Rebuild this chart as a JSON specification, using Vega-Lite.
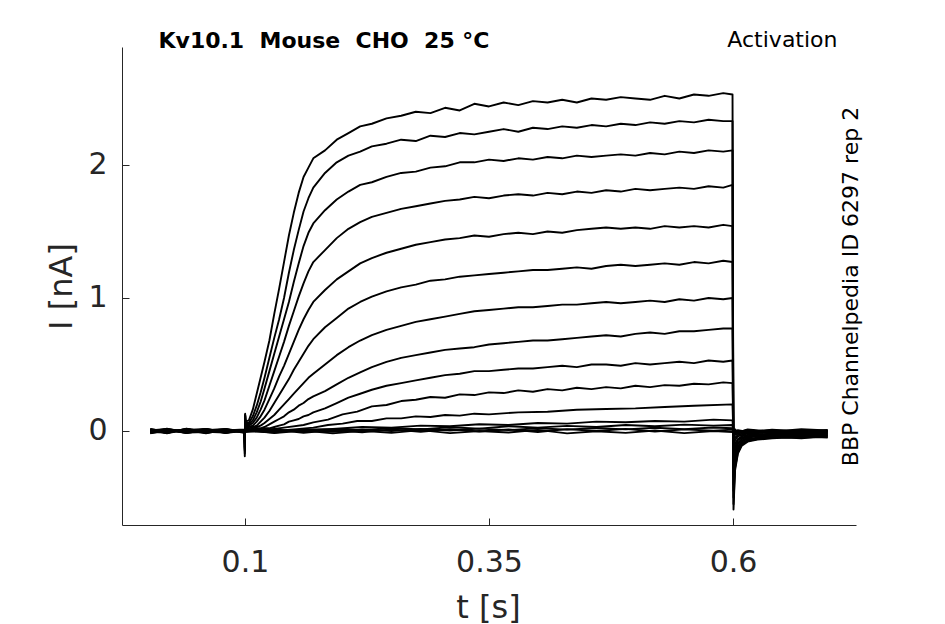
{
"$schema":"https://vega.github.io/schema/vega-lite/v6.json",
"width":734,"height":478,
"autosize":{"type":"none"},
"padding":{"left":122,"top":47,"right":89,"bottom":99},
"background":"white",
"config":{"font":"DejaVu Sans","view":{"stroke":null}},
"datasets":{
"anchor":[{"t":0.35,"i":1}],
"traces":[
{"k":1,"t":0.003,"i":0.012},{"k":1,"t":0.02,"i":-0.015},{"k":1,"t":0.04,"i":0.018},{"k":1,"t":0.06,"i":-0.008},{"k":1,"t":0.08,"i":0.01},{"k":1,"t":0.0995,"i":0},{"k":1,"t":0.0998,"i":-0.19},{"k":1,"t":0.1002,"i":0.13},
{"k":1,"t":0.1005,"i":0.07},{"k":1,"t":0.104,"i":0.08},{"k":1,"t":0.108,"i":0.16},{"k":1,"t":0.112,"i":0.28},{"k":1,"t":0.116,"i":0.4},{"k":1,"t":0.12,"i":0.52},{"k":1,"t":0.125,"i":0.68},{"k":1,"t":0.13,"i":0.88},{"k":1,"t":0.135,"i":1.07},{"k":1,"t":0.14,"i":1.27},{"k":1,"t":0.145,"i":1.47},{"k":1,"t":0.15,"i":1.64},{"k":1,"t":0.155,"i":1.79},{"k":1,"t":0.16,"i":1.91},{"k":1,"t":0.165,"i":1.98},{"k":1,"t":0.17,"i":2.05},
{"k":1,"t":0.182,"i":2.11},{"k":1,"t":0.194,"i":2.19},{"k":1,"t":0.206,"i":2.24},{"k":1,"t":0.218,"i":2.29},{"k":1,"t":0.23,"i":2.31},{"k":1,"t":0.245,"i":2.35},{"k":1,"t":0.26,"i":2.37},{"k":1,"t":0.275,"i":2.4},{"k":1,"t":0.29,"i":2.39},{"k":1,"t":0.305,"i":2.43},{"k":1,"t":0.32,"i":2.41},{"k":1,"t":0.335,"i":2.46},{"k":1,"t":0.35,"i":2.44},{"k":1,"t":0.365,"i":2.47},{"k":1,"t":0.38,"i":2.45},{"k":1,"t":0.395,"i":2.48},{"k":1,"t":0.41,"i":2.47},{"k":1,"t":0.425,"i":2.49},{"k":1,"t":0.44,"i":2.47},{"k":1,"t":0.455,"i":2.5},{"k":1,"t":0.47,"i":2.49},{"k":1,"t":0.485,"i":2.51},{"k":1,"t":0.5,"i":2.5},{"k":1,"t":0.515,"i":2.49},{"k":1,"t":0.53,"i":2.52},{"k":1,"t":0.545,"i":2.5},{"k":1,"t":0.56,"i":2.53},{"k":1,"t":0.575,"i":2.52},{"k":1,"t":0.59,"i":2.54},{"k":1,"t":0.5995,"i":2.53},
{"k":1,"t":0.6005,"i":-0.59},{"k":1,"t":0.602,"i":-0.3},{"k":1,"t":0.605,"i":-0.17},{"k":1,"t":0.609,"i":-0.11},{"k":1,"t":0.615,"i":-0.08},{"k":1,"t":0.625,"i":-0.065},{"k":1,"t":0.64,"i":-0.055},{"k":1,"t":0.655,"i":-0.05},{"k":1,"t":0.67,"i":-0.055},{"k":1,"t":0.685,"i":-0.045},{"k":1,"t":0.697,"i":-0.05},

{"k":2,"t":0.003,"i":-0.014},{"k":2,"t":0.02,"i":0.01},{"k":2,"t":0.04,"i":-0.006},{"k":2,"t":0.06,"i":0.016},{"k":2,"t":0.08,"i":-0.012},{"k":2,"t":0.0995,"i":0.005},{"k":2,"t":0.0998,"i":-0.17},{"k":2,"t":0.1002,"i":0.12},
{"k":2,"t":0.1005,"i":0.06},{"k":2,"t":0.104,"i":0.06},{"k":2,"t":0.108,"i":0.11},{"k":2,"t":0.112,"i":0.19},{"k":2,"t":0.116,"i":0.29},{"k":2,"t":0.12,"i":0.4},{"k":2,"t":0.125,"i":0.55},{"k":2,"t":0.13,"i":0.7},{"k":2,"t":0.135,"i":0.84},{"k":2,"t":0.14,"i":1.0},{"k":2,"t":0.145,"i":1.19},{"k":2,"t":0.15,"i":1.36},{"k":2,"t":0.155,"i":1.51},{"k":2,"t":0.16,"i":1.65},{"k":2,"t":0.165,"i":1.75},{"k":2,"t":0.17,"i":1.83},
{"k":2,"t":0.182,"i":1.94},{"k":2,"t":0.194,"i":2.02},{"k":2,"t":0.206,"i":2.07},{"k":2,"t":0.218,"i":2.1},{"k":2,"t":0.23,"i":2.14},{"k":2,"t":0.245,"i":2.16},{"k":2,"t":0.26,"i":2.19},{"k":2,"t":0.275,"i":2.18},{"k":2,"t":0.29,"i":2.22},{"k":2,"t":0.305,"i":2.21},{"k":2,"t":0.32,"i":2.24},{"k":2,"t":0.335,"i":2.23},{"k":2,"t":0.35,"i":2.25},{"k":2,"t":0.365,"i":2.27},{"k":2,"t":0.38,"i":2.25},{"k":2,"t":0.395,"i":2.28},{"k":2,"t":0.41,"i":2.27},{"k":2,"t":0.425,"i":2.29},{"k":2,"t":0.44,"i":2.28},{"k":2,"t":0.455,"i":2.3},{"k":2,"t":0.47,"i":2.29},{"k":2,"t":0.485,"i":2.31},{"k":2,"t":0.5,"i":2.3},{"k":2,"t":0.515,"i":2.32},{"k":2,"t":0.53,"i":2.31},{"k":2,"t":0.545,"i":2.33},{"k":2,"t":0.56,"i":2.32},{"k":2,"t":0.575,"i":2.34},{"k":2,"t":0.59,"i":2.33},{"k":2,"t":0.5995,"i":2.33},
{"k":2,"t":0.6005,"i":-0.55},{"k":2,"t":0.602,"i":-0.28},{"k":2,"t":0.605,"i":-0.16},{"k":2,"t":0.609,"i":-0.1},{"k":2,"t":0.615,"i":-0.075},{"k":2,"t":0.625,"i":-0.06},{"k":2,"t":0.64,"i":-0.05},{"k":2,"t":0.655,"i":-0.048},{"k":2,"t":0.67,"i":-0.05},{"k":2,"t":0.685,"i":-0.045},{"k":2,"t":0.697,"i":-0.045},

{"k":3,"t":0.003,"i":0.016},{"k":3,"t":0.02,"i":-0.008},{"k":3,"t":0.04,"i":0.006},{"k":3,"t":0.06,"i":-0.017},{"k":3,"t":0.08,"i":0.012},{"k":3,"t":0.0995,"i":-0.004},{"k":3,"t":0.0998,"i":-0.15},{"k":3,"t":0.1002,"i":0.12},
{"k":3,"t":0.1005,"i":0.05},{"k":3,"t":0.104,"i":0.05},{"k":3,"t":0.108,"i":0.08},{"k":3,"t":0.112,"i":0.14},{"k":3,"t":0.116,"i":0.22},{"k":3,"t":0.12,"i":0.32},{"k":3,"t":0.125,"i":0.45},{"k":3,"t":0.13,"i":0.58},{"k":3,"t":0.135,"i":0.71},{"k":3,"t":0.14,"i":0.84},{"k":3,"t":0.145,"i":0.97},{"k":3,"t":0.15,"i":1.12},{"k":3,"t":0.155,"i":1.26},{"k":3,"t":0.16,"i":1.39},{"k":3,"t":0.165,"i":1.49},{"k":3,"t":0.17,"i":1.56},
{"k":3,"t":0.182,"i":1.66},{"k":3,"t":0.194,"i":1.74},{"k":3,"t":0.206,"i":1.8},{"k":3,"t":0.218,"i":1.85},{"k":3,"t":0.23,"i":1.87},{"k":3,"t":0.245,"i":1.91},{"k":3,"t":0.26,"i":1.94},{"k":3,"t":0.275,"i":1.95},{"k":3,"t":0.29,"i":1.98},{"k":3,"t":0.305,"i":1.99},{"k":3,"t":0.32,"i":2.02},{"k":3,"t":0.335,"i":2.02},{"k":3,"t":0.35,"i":2.04},{"k":3,"t":0.365,"i":2.03},{"k":3,"t":0.38,"i":2.05},{"k":3,"t":0.395,"i":2.04},{"k":3,"t":0.41,"i":2.06},{"k":3,"t":0.425,"i":2.05},{"k":3,"t":0.44,"i":2.07},{"k":3,"t":0.455,"i":2.06},{"k":3,"t":0.47,"i":2.07},{"k":3,"t":0.485,"i":2.08},{"k":3,"t":0.5,"i":2.07},{"k":3,"t":0.515,"i":2.09},{"k":3,"t":0.53,"i":2.08},{"k":3,"t":0.545,"i":2.1},{"k":3,"t":0.56,"i":2.09},{"k":3,"t":0.575,"i":2.11},{"k":3,"t":0.59,"i":2.1},{"k":3,"t":0.5995,"i":2.11},
{"k":3,"t":0.6005,"i":-0.5},{"k":3,"t":0.602,"i":-0.25},{"k":3,"t":0.605,"i":-0.14},{"k":3,"t":0.609,"i":-0.09},{"k":3,"t":0.615,"i":-0.07},{"k":3,"t":0.625,"i":-0.055},{"k":3,"t":0.64,"i":-0.045},{"k":3,"t":0.655,"i":-0.045},{"k":3,"t":0.67,"i":-0.04},{"k":3,"t":0.685,"i":-0.045},{"k":3,"t":0.697,"i":-0.04},

{"k":4,"t":0.003,"i":-0.006},{"k":4,"t":0.02,"i":0.017},{"k":4,"t":0.04,"i":-0.015},{"k":4,"t":0.06,"i":0.008},{"k":4,"t":0.08,"i":-0.01},{"k":4,"t":0.0995,"i":0.008},{"k":4,"t":0.0998,"i":-0.14},{"k":4,"t":0.1002,"i":0.11},
{"k":4,"t":0.1005,"i":0.04},{"k":4,"t":0.104,"i":0.04},{"k":4,"t":0.108,"i":0.06},{"k":4,"t":0.112,"i":0.1},{"k":4,"t":0.116,"i":0.16},{"k":4,"t":0.12,"i":0.23},{"k":4,"t":0.125,"i":0.34},{"k":4,"t":0.13,"i":0.45},{"k":4,"t":0.135,"i":0.56},{"k":4,"t":0.14,"i":0.67},{"k":4,"t":0.145,"i":0.79},{"k":4,"t":0.15,"i":0.9},{"k":4,"t":0.155,"i":1.01},{"k":4,"t":0.16,"i":1.11},{"k":4,"t":0.165,"i":1.2},{"k":4,"t":0.17,"i":1.27},
{"k":4,"t":0.182,"i":1.36},{"k":4,"t":0.194,"i":1.45},{"k":4,"t":0.206,"i":1.52},{"k":4,"t":0.218,"i":1.57},{"k":4,"t":0.23,"i":1.61},{"k":4,"t":0.245,"i":1.64},{"k":4,"t":0.26,"i":1.67},{"k":4,"t":0.275,"i":1.69},{"k":4,"t":0.29,"i":1.71},{"k":4,"t":0.305,"i":1.73},{"k":4,"t":0.32,"i":1.74},{"k":4,"t":0.335,"i":1.76},{"k":4,"t":0.35,"i":1.75},{"k":4,"t":0.365,"i":1.77},{"k":4,"t":0.38,"i":1.78},{"k":4,"t":0.395,"i":1.77},{"k":4,"t":0.41,"i":1.79},{"k":4,"t":0.425,"i":1.78},{"k":4,"t":0.44,"i":1.8},{"k":4,"t":0.455,"i":1.79},{"k":4,"t":0.47,"i":1.81},{"k":4,"t":0.485,"i":1.8},{"k":4,"t":0.5,"i":1.82},{"k":4,"t":0.515,"i":1.81},{"k":4,"t":0.53,"i":1.82},{"k":4,"t":0.545,"i":1.83},{"k":4,"t":0.56,"i":1.82},{"k":4,"t":0.575,"i":1.84},{"k":4,"t":0.59,"i":1.83},{"k":4,"t":0.5995,"i":1.85},
{"k":4,"t":0.6005,"i":-0.45},{"k":4,"t":0.602,"i":-0.22},{"k":4,"t":0.605,"i":-0.12},{"k":4,"t":0.609,"i":-0.08},{"k":4,"t":0.615,"i":-0.06},{"k":4,"t":0.625,"i":-0.05},{"k":4,"t":0.64,"i":-0.04},{"k":4,"t":0.655,"i":-0.04},{"k":4,"t":0.67,"i":-0.035},{"k":4,"t":0.685,"i":-0.04},{"k":4,"t":0.697,"i":-0.035},

{"k":5,"t":0.003,"i":0.008},{"k":5,"t":0.02,"i":-0.018},{"k":5,"t":0.04,"i":0.012},{"k":5,"t":0.06,"i":-0.004},{"k":5,"t":0.08,"i":0.015},{"k":5,"t":0.0995,"i":-0.006},{"k":5,"t":0.0998,"i":-0.13},{"k":5,"t":0.1002,"i":0.11},
{"k":5,"t":0.1005,"i":0.03},{"k":5,"t":0.104,"i":0.03},{"k":5,"t":0.108,"i":0.04},{"k":5,"t":0.112,"i":0.07},{"k":5,"t":0.116,"i":0.11},{"k":5,"t":0.12,"i":0.16},{"k":5,"t":0.125,"i":0.24},{"k":5,"t":0.13,"i":0.32},{"k":5,"t":0.135,"i":0.41},{"k":5,"t":0.14,"i":0.49},{"k":5,"t":0.145,"i":0.58},{"k":5,"t":0.15,"i":0.67},{"k":5,"t":0.155,"i":0.76},{"k":5,"t":0.16,"i":0.84},{"k":5,"t":0.165,"i":0.91},{"k":5,"t":0.17,"i":0.97},
{"k":5,"t":0.182,"i":1.06},{"k":5,"t":0.194,"i":1.14},{"k":5,"t":0.206,"i":1.2},{"k":5,"t":0.218,"i":1.26},{"k":5,"t":0.23,"i":1.3},{"k":5,"t":0.245,"i":1.34},{"k":5,"t":0.26,"i":1.37},{"k":5,"t":0.275,"i":1.4},{"k":5,"t":0.29,"i":1.42},{"k":5,"t":0.305,"i":1.44},{"k":5,"t":0.32,"i":1.45},{"k":5,"t":0.335,"i":1.47},{"k":5,"t":0.35,"i":1.46},{"k":5,"t":0.365,"i":1.48},{"k":5,"t":0.38,"i":1.49},{"k":5,"t":0.395,"i":1.48},{"k":5,"t":0.41,"i":1.5},{"k":5,"t":0.425,"i":1.49},{"k":5,"t":0.44,"i":1.51},{"k":5,"t":0.455,"i":1.52},{"k":5,"t":0.47,"i":1.53},{"k":5,"t":0.485,"i":1.52},{"k":5,"t":0.5,"i":1.53},{"k":5,"t":0.515,"i":1.52},{"k":5,"t":0.53,"i":1.54},{"k":5,"t":0.545,"i":1.53},{"k":5,"t":0.56,"i":1.54},{"k":5,"t":0.575,"i":1.53},{"k":5,"t":0.59,"i":1.55},{"k":5,"t":0.5995,"i":1.54},
{"k":5,"t":0.6005,"i":-0.4},{"k":5,"t":0.602,"i":-0.19},{"k":5,"t":0.605,"i":-0.1},{"k":5,"t":0.609,"i":-0.07},{"k":5,"t":0.615,"i":-0.05},{"k":5,"t":0.625,"i":-0.04},{"k":5,"t":0.64,"i":-0.035},{"k":5,"t":0.655,"i":-0.03},{"k":5,"t":0.67,"i":-0.035},{"k":5,"t":0.685,"i":-0.03},{"k":5,"t":0.697,"i":-0.03},

{"k":6,"t":0.003,"i":-0.017},{"k":6,"t":0.02,"i":0.006},{"k":6,"t":0.04,"i":-0.01},{"k":6,"t":0.06,"i":0.014},{"k":6,"t":0.08,"i":-0.005},{"k":6,"t":0.0995,"i":0.01},{"k":6,"t":0.0998,"i":-0.12},{"k":6,"t":0.1002,"i":0.1},
{"k":6,"t":0.1005,"i":0.02},{"k":6,"t":0.104,"i":0.02},{"k":6,"t":0.108,"i":0.03},{"k":6,"t":0.112,"i":0.04},{"k":6,"t":0.116,"i":0.07},{"k":6,"t":0.12,"i":0.1},{"k":6,"t":0.125,"i":0.15},{"k":6,"t":0.13,"i":0.21},{"k":6,"t":0.135,"i":0.27},{"k":6,"t":0.14,"i":0.33},{"k":6,"t":0.145,"i":0.39},{"k":6,"t":0.15,"i":0.46},{"k":6,"t":0.155,"i":0.52},{"k":6,"t":0.16,"i":0.58},{"k":6,"t":0.165,"i":0.64},{"k":6,"t":0.17,"i":0.69},
{"k":6,"t":0.182,"i":0.78},{"k":6,"t":0.194,"i":0.85},{"k":6,"t":0.206,"i":0.92},{"k":6,"t":0.218,"i":0.97},{"k":6,"t":0.23,"i":1.01},{"k":6,"t":0.245,"i":1.05},{"k":6,"t":0.26,"i":1.08},{"k":6,"t":0.275,"i":1.1},{"k":6,"t":0.29,"i":1.13},{"k":6,"t":0.305,"i":1.14},{"k":6,"t":0.32,"i":1.16},{"k":6,"t":0.335,"i":1.17},{"k":6,"t":0.35,"i":1.18},{"k":6,"t":0.365,"i":1.19},{"k":6,"t":0.38,"i":1.2},{"k":6,"t":0.395,"i":1.21},{"k":6,"t":0.41,"i":1.21},{"k":6,"t":0.425,"i":1.22},{"k":6,"t":0.44,"i":1.23},{"k":6,"t":0.455,"i":1.22},{"k":6,"t":0.47,"i":1.24},{"k":6,"t":0.485,"i":1.25},{"k":6,"t":0.5,"i":1.24},{"k":6,"t":0.515,"i":1.25},{"k":6,"t":0.53,"i":1.26},{"k":6,"t":0.545,"i":1.25},{"k":6,"t":0.56,"i":1.27},{"k":6,"t":0.575,"i":1.26},{"k":6,"t":0.59,"i":1.28},{"k":6,"t":0.5995,"i":1.27},
{"k":6,"t":0.6005,"i":-0.34},{"k":6,"t":0.602,"i":-0.16},{"k":6,"t":0.605,"i":-0.09},{"k":6,"t":0.609,"i":-0.06},{"k":6,"t":0.615,"i":-0.045},{"k":6,"t":0.625,"i":-0.035},{"k":6,"t":0.64,"i":-0.03},{"k":6,"t":0.655,"i":-0.028},{"k":6,"t":0.67,"i":-0.03},{"k":6,"t":0.685,"i":-0.025},{"k":6,"t":0.697,"i":-0.028},

{"k":7,"t":0.003,"i":0.005},{"k":7,"t":0.02,"i":-0.012},{"k":7,"t":0.04,"i":0.015},{"k":7,"t":0.06,"i":-0.015},{"k":7,"t":0.08,"i":0.008},{"k":7,"t":0.0995,"i":-0.01},{"k":7,"t":0.0998,"i":-0.1},{"k":7,"t":0.1002,"i":0.09},
{"k":7,"t":0.1005,"i":0.02},{"k":7,"t":0.104,"i":0.01},{"k":7,"t":0.108,"i":0.02},{"k":7,"t":0.112,"i":0.03},{"k":7,"t":0.116,"i":0.04},{"k":7,"t":0.12,"i":0.06},{"k":7,"t":0.125,"i":0.09},{"k":7,"t":0.13,"i":0.12},{"k":7,"t":0.135,"i":0.16},{"k":7,"t":0.14,"i":0.2},{"k":7,"t":0.145,"i":0.24},{"k":7,"t":0.15,"i":0.28},{"k":7,"t":0.155,"i":0.32},{"k":7,"t":0.16,"i":0.36},{"k":7,"t":0.165,"i":0.4},{"k":7,"t":0.17,"i":0.43},
{"k":7,"t":0.182,"i":0.5},{"k":7,"t":0.194,"i":0.57},{"k":7,"t":0.206,"i":0.63},{"k":7,"t":0.218,"i":0.68},{"k":7,"t":0.23,"i":0.72},{"k":7,"t":0.245,"i":0.76},{"k":7,"t":0.26,"i":0.79},{"k":7,"t":0.275,"i":0.82},{"k":7,"t":0.29,"i":0.84},{"k":7,"t":0.305,"i":0.86},{"k":7,"t":0.32,"i":0.88},{"k":7,"t":0.335,"i":0.9},{"k":7,"t":0.35,"i":0.91},{"k":7,"t":0.365,"i":0.92},{"k":7,"t":0.38,"i":0.93},{"k":7,"t":0.395,"i":0.93},{"k":7,"t":0.41,"i":0.94},{"k":7,"t":0.425,"i":0.95},{"k":7,"t":0.44,"i":0.95},{"k":7,"t":0.455,"i":0.96},{"k":7,"t":0.47,"i":0.97},{"k":7,"t":0.485,"i":0.96},{"k":7,"t":0.5,"i":0.97},{"k":7,"t":0.515,"i":0.98},{"k":7,"t":0.53,"i":0.97},{"k":7,"t":0.545,"i":0.99},{"k":7,"t":0.56,"i":0.98},{"k":7,"t":0.575,"i":1.0},{"k":7,"t":0.59,"i":0.99},{"k":7,"t":0.5995,"i":1.0},
{"k":7,"t":0.6005,"i":-0.28},{"k":7,"t":0.602,"i":-0.13},{"k":7,"t":0.605,"i":-0.07},{"k":7,"t":0.609,"i":-0.05},{"k":7,"t":0.615,"i":-0.04},{"k":7,"t":0.625,"i":-0.03},{"k":7,"t":0.64,"i":-0.025},{"k":7,"t":0.655,"i":-0.02},{"k":7,"t":0.67,"i":-0.025},{"k":7,"t":0.685,"i":-0.02},{"k":7,"t":0.697,"i":-0.02},

{"k":8,"t":0.003,"i":-0.01},{"k":8,"t":0.02,"i":0.014},{"k":8,"t":0.04,"i":-0.004},{"k":8,"t":0.06,"i":0.012},{"k":8,"t":0.08,"i":-0.016},{"k":8,"t":0.0995,"i":0.004},{"k":8,"t":0.0998,"i":-0.09},{"k":8,"t":0.1002,"i":0.08},
{"k":8,"t":0.1005,"i":0.01},{"k":8,"t":0.104,"i":0.01},{"k":8,"t":0.108,"i":0.01},{"k":8,"t":0.112,"i":0.02},{"k":8,"t":0.116,"i":0.02},{"k":8,"t":0.12,"i":0.03},{"k":8,"t":0.125,"i":0.05},{"k":8,"t":0.13,"i":0.07},{"k":8,"t":0.135,"i":0.09},{"k":8,"t":0.14,"i":0.11},{"k":8,"t":0.145,"i":0.14},{"k":8,"t":0.15,"i":0.16},{"k":8,"t":0.155,"i":0.19},{"k":8,"t":0.16,"i":0.21},{"k":8,"t":0.165,"i":0.24},{"k":8,"t":0.17,"i":0.26},
{"k":8,"t":0.182,"i":0.3},{"k":8,"t":0.194,"i":0.35},{"k":8,"t":0.206,"i":0.4},{"k":8,"t":0.218,"i":0.44},{"k":8,"t":0.23,"i":0.48},{"k":8,"t":0.245,"i":0.52},{"k":8,"t":0.26,"i":0.55},{"k":8,"t":0.275,"i":0.57},{"k":8,"t":0.29,"i":0.59},{"k":8,"t":0.305,"i":0.61},{"k":8,"t":0.32,"i":0.62},{"k":8,"t":0.335,"i":0.63},{"k":8,"t":0.35,"i":0.65},{"k":8,"t":0.365,"i":0.66},{"k":8,"t":0.38,"i":0.67},{"k":8,"t":0.395,"i":0.68},{"k":8,"t":0.41,"i":0.68},{"k":8,"t":0.425,"i":0.69},{"k":8,"t":0.44,"i":0.7},{"k":8,"t":0.455,"i":0.71},{"k":8,"t":0.47,"i":0.72},{"k":8,"t":0.485,"i":0.71},{"k":8,"t":0.5,"i":0.73},{"k":8,"t":0.515,"i":0.74},{"k":8,"t":0.53,"i":0.73},{"k":8,"t":0.545,"i":0.75},{"k":8,"t":0.56,"i":0.75},{"k":8,"t":0.575,"i":0.76},{"k":8,"t":0.59,"i":0.77},{"k":8,"t":0.5995,"i":0.77},
{"k":8,"t":0.6005,"i":-0.22},{"k":8,"t":0.602,"i":-0.1},{"k":8,"t":0.605,"i":-0.06},{"k":8,"t":0.609,"i":-0.04},{"k":8,"t":0.615,"i":-0.03},{"k":8,"t":0.625,"i":-0.025},{"k":8,"t":0.64,"i":-0.02},{"k":8,"t":0.655,"i":-0.018},{"k":8,"t":0.67,"i":-0.02},{"k":8,"t":0.685,"i":-0.015},{"k":8,"t":0.697,"i":-0.018},

{"k":9,"t":0.003,"i":0.014},{"k":9,"t":0.02,"i":-0.006},{"k":9,"t":0.04,"i":0.01},{"k":9,"t":0.06,"i":-0.012},{"k":9,"t":0.08,"i":0.006},{"k":9,"t":0.0995,"i":-0.008},{"k":9,"t":0.0998,"i":-0.08},{"k":9,"t":0.1002,"i":0.07},
{"k":9,"t":0.1005,"i":0.01},{"k":9,"t":0.104,"i":0.0},{"k":9,"t":0.108,"i":0.01},{"k":9,"t":0.112,"i":0.01},{"k":9,"t":0.116,"i":0.01},{"k":9,"t":0.12,"i":0.02},{"k":9,"t":0.125,"i":0.02},{"k":9,"t":0.13,"i":0.03},{"k":9,"t":0.135,"i":0.04},{"k":9,"t":0.14,"i":0.05},{"k":9,"t":0.145,"i":0.07},{"k":9,"t":0.15,"i":0.08},{"k":9,"t":0.155,"i":0.09},{"k":9,"t":0.16,"i":0.11},{"k":9,"t":0.165,"i":0.12},{"k":9,"t":0.17,"i":0.14},
{"k":9,"t":0.182,"i":0.17},{"k":9,"t":0.194,"i":0.21},{"k":9,"t":0.206,"i":0.25},{"k":9,"t":0.218,"i":0.28},{"k":9,"t":0.23,"i":0.31},{"k":9,"t":0.245,"i":0.34},{"k":9,"t":0.26,"i":0.36},{"k":9,"t":0.275,"i":0.38},{"k":9,"t":0.29,"i":0.4},{"k":9,"t":0.305,"i":0.42},{"k":9,"t":0.32,"i":0.43},{"k":9,"t":0.335,"i":0.45},{"k":9,"t":0.35,"i":0.45},{"k":9,"t":0.365,"i":0.46},{"k":9,"t":0.38,"i":0.47},{"k":9,"t":0.395,"i":0.47},{"k":9,"t":0.41,"i":0.48},{"k":9,"t":0.425,"i":0.49},{"k":9,"t":0.44,"i":0.48},{"k":9,"t":0.455,"i":0.5},{"k":9,"t":0.47,"i":0.5},{"k":9,"t":0.485,"i":0.49},{"k":9,"t":0.5,"i":0.51},{"k":9,"t":0.515,"i":0.5},{"k":9,"t":0.53,"i":0.51},{"k":9,"t":0.545,"i":0.52},{"k":9,"t":0.56,"i":0.51},{"k":9,"t":0.575,"i":0.53},{"k":9,"t":0.59,"i":0.52},{"k":9,"t":0.5995,"i":0.53},
{"k":9,"t":0.6005,"i":-0.16},{"k":9,"t":0.602,"i":-0.07},{"k":9,"t":0.605,"i":-0.04},{"k":9,"t":0.609,"i":-0.03},{"k":9,"t":0.615,"i":-0.02},{"k":9,"t":0.625,"i":-0.015},{"k":9,"t":0.64,"i":-0.012},{"k":9,"t":0.655,"i":-0.01},{"k":9,"t":0.67,"i":-0.012},{"k":9,"t":0.685,"i":-0.01},{"k":9,"t":0.697,"i":-0.01},

{"k":10,"t":0.003,"i":-0.012},{"k":10,"t":0.02,"i":0.008},{"k":10,"t":0.04,"i":-0.016},{"k":10,"t":0.06,"i":0.01},{"k":10,"t":0.08,"i":0.004},{"k":10,"t":0.0995,"i":0.012},{"k":10,"t":0.0998,"i":-0.07},{"k":10,"t":0.1002,"i":0.06},
{"k":10,"t":0.1005,"i":0.01},{"k":10,"t":0.12,"i":0.005},{"k":10,"t":0.14,"i":0.025},{"k":10,"t":0.16,"i":0.045},{"k":10,"t":0.17,"i":0.065},{"k":10,"t":0.185,"i":0.085},{"k":10,"t":0.2,"i":0.125},{"k":10,"t":0.215,"i":0.145},{"k":10,"t":0.23,"i":0.185},{"k":10,"t":0.245,"i":0.195},{"k":10,"t":0.26,"i":0.225},{"k":10,"t":0.275,"i":0.235},{"k":10,"t":0.29,"i":0.255},{"k":10,"t":0.305,"i":0.25},{"k":10,"t":0.32,"i":0.275},{"k":10,"t":0.335,"i":0.27},{"k":10,"t":0.35,"i":0.29},{"k":10,"t":0.365,"i":0.285},{"k":10,"t":0.38,"i":0.305},{"k":10,"t":0.395,"i":0.295},{"k":10,"t":0.41,"i":0.315},{"k":10,"t":0.425,"i":0.305},{"k":10,"t":0.44,"i":0.325},{"k":10,"t":0.455,"i":0.315},{"k":10,"t":0.47,"i":0.33},{"k":10,"t":0.485,"i":0.32},{"k":10,"t":0.5,"i":0.34},{"k":10,"t":0.515,"i":0.33},{"k":10,"t":0.53,"i":0.345},{"k":10,"t":0.545,"i":0.34},{"k":10,"t":0.56,"i":0.355},{"k":10,"t":0.575,"i":0.35},{"k":10,"t":0.59,"i":0.365},{"k":10,"t":0.5995,"i":0.36},
{"k":10,"t":0.6005,"i":-0.11},{"k":10,"t":0.602,"i":-0.05},{"k":10,"t":0.605,"i":-0.03},{"k":10,"t":0.609,"i":-0.02},{"k":10,"t":0.615,"i":-0.015},{"k":10,"t":0.625,"i":-0.01},{"k":10,"t":0.64,"i":-0.008},{"k":10,"t":0.655,"i":-0.005},{"k":10,"t":0.67,"i":-0.008},{"k":10,"t":0.685,"i":-0.005},{"k":10,"t":0.697,"i":-0.006},

{"k":11,"t":0.003,"i":0.006},{"k":11,"t":0.02,"i":-0.014},{"k":11,"t":0.04,"i":0.016},{"k":11,"t":0.06,"i":-0.006},{"k":11,"t":0.08,"i":-0.012},{"k":11,"t":0.0995,"i":0.002},{"k":11,"t":0.0998,"i":-0.06},{"k":11,"t":0.1002,"i":0.05},
{"k":11,"t":0.1005,"i":0.005},{"k":11,"t":0.13,"i":0.0},{"k":11,"t":0.15,"i":0.012},{"k":11,"t":0.17,"i":0.025},{"k":11,"t":0.185,"i":0.045},{"k":11,"t":0.2,"i":0.055},{"k":11,"t":0.215,"i":0.075},{"k":11,"t":0.23,"i":0.075},{"k":11,"t":0.245,"i":0.095},{"k":11,"t":0.26,"i":0.095},{"k":11,"t":0.275,"i":0.11},{"k":11,"t":0.29,"i":0.105},{"k":11,"t":0.305,"i":0.12},{"k":11,"t":0.32,"i":0.115},{"k":11,"t":0.335,"i":0.13},{"k":11,"t":0.35,"i":0.125},{"k":11,"t":0.38,"i":0.14},{"k":11,"t":0.41,"i":0.145},{"k":11,"t":0.44,"i":0.16},{"k":11,"t":0.47,"i":0.165},{"k":11,"t":0.5,"i":0.17},{"k":11,"t":0.53,"i":0.18},{"k":11,"t":0.56,"i":0.19},{"k":11,"t":0.5995,"i":0.2},
{"k":11,"t":0.6005,"i":-0.06},{"k":11,"t":0.602,"i":-0.03},{"k":11,"t":0.605,"i":-0.02},{"k":11,"t":0.609,"i":-0.01},{"k":11,"t":0.615,"i":-0.01},{"k":11,"t":0.625,"i":-0.005},{"k":11,"t":0.64,"i":0.0},{"k":11,"t":0.655,"i":-0.005},{"k":11,"t":0.67,"i":0.0},{"k":11,"t":0.685,"i":-0.004},{"k":11,"t":0.697,"i":0.0},

{"k":12,"t":0.003,"i":-0.004},{"k":12,"t":0.02,"i":0.012},{"k":12,"t":0.04,"i":-0.01},{"k":12,"t":0.06,"i":0.005},{"k":12,"t":0.08,"i":0.016},{"k":12,"t":0.0995,"i":-0.012},{"k":12,"t":0.0998,"i":-0.05},{"k":12,"t":0.1002,"i":0.04},
{"k":12,"t":0.1005,"i":0.01},{"k":12,"t":0.13,"i":-0.005},{"k":12,"t":0.16,"i":0.01},{"k":12,"t":0.19,"i":0.015},{"k":12,"t":0.22,"i":0.03},{"k":12,"t":0.25,"i":0.025},{"k":12,"t":0.28,"i":0.04},{"k":12,"t":0.31,"i":0.035},{"k":12,"t":0.34,"i":0.05},{"k":12,"t":0.37,"i":0.045},{"k":12,"t":0.4,"i":0.06},{"k":12,"t":0.43,"i":0.055},{"k":12,"t":0.46,"i":0.07},{"k":12,"t":0.49,"i":0.065},{"k":12,"t":0.52,"i":0.075},{"k":12,"t":0.55,"i":0.07},{"k":12,"t":0.58,"i":0.085},{"k":12,"t":0.5995,"i":0.08},
{"k":12,"t":0.6005,"i":-0.04},{"k":12,"t":0.602,"i":-0.02},{"k":12,"t":0.605,"i":-0.012},{"k":12,"t":0.615,"i":-0.005},{"k":12,"t":0.64,"i":0.005},{"k":12,"t":0.67,"i":-0.005},{"k":12,"t":0.697,"i":0.0},

{"k":13,"t":0.003,"i":0.01},{"k":13,"t":0.02,"i":-0.004},{"k":13,"t":0.04,"i":0.008},{"k":13,"t":0.06,"i":0.016},{"k":13,"t":0.08,"i":-0.008},{"k":13,"t":0.0995,"i":0.006},{"k":13,"t":0.0998,"i":-0.04},{"k":13,"t":0.1002,"i":0.03},
{"k":13,"t":0.1005,"i":0.005},{"k":13,"t":0.13,"i":0.012},{"k":13,"t":0.16,"i":-0.006},{"k":13,"t":0.19,"i":0.015},{"k":13,"t":0.22,"i":0.005},{"k":13,"t":0.25,"i":0.022},{"k":13,"t":0.28,"i":0.012},{"k":13,"t":0.31,"i":0.028},{"k":13,"t":0.34,"i":0.018},{"k":13,"t":0.37,"i":0.035},{"k":13,"t":0.4,"i":0.025},{"k":13,"t":0.43,"i":0.038},{"k":13,"t":0.46,"i":0.03},{"k":13,"t":0.49,"i":0.045},{"k":13,"t":0.52,"i":0.035},{"k":13,"t":0.55,"i":0.048},{"k":13,"t":0.58,"i":0.04},{"k":13,"t":0.5995,"i":0.045},
{"k":13,"t":0.6005,"i":-0.03},{"k":13,"t":0.602,"i":-0.012},{"k":13,"t":0.605,"i":-0.006},{"k":13,"t":0.615,"i":0.004},{"k":13,"t":0.64,"i":-0.006},{"k":13,"t":0.67,"i":0.006},{"k":13,"t":0.697,"i":-0.004},

{"k":14,"t":0.003,"i":-0.015},{"k":14,"t":0.02,"i":0.004},{"k":14,"t":0.04,"i":-0.012},{"k":14,"t":0.06,"i":-0.008},{"k":14,"t":0.08,"i":0.01},{"k":14,"t":0.0995,"i":-0.004},{"k":14,"t":0.0998,"i":-0.03},{"k":14,"t":0.1002,"i":0.02},
{"k":14,"t":0.1005,"i":0.0},{"k":14,"t":0.13,"i":-0.012},{"k":14,"t":0.16,"i":0.008},{"k":14,"t":0.19,"i":-0.006},{"k":14,"t":0.22,"i":0.012},{"k":14,"t":0.25,"i":0.0},{"k":14,"t":0.28,"i":0.016},{"k":14,"t":0.31,"i":0.004},{"k":14,"t":0.34,"i":0.018},{"k":14,"t":0.37,"i":0.006},{"k":14,"t":0.4,"i":0.02},{"k":14,"t":0.43,"i":0.01},{"k":14,"t":0.46,"i":0.022},{"k":14,"t":0.49,"i":0.012},{"k":14,"t":0.52,"i":0.024},{"k":14,"t":0.55,"i":0.014},{"k":14,"t":0.58,"i":0.026},{"k":14,"t":0.5995,"i":0.02},
{"k":14,"t":0.6005,"i":-0.02},{"k":14,"t":0.602,"i":-0.008},{"k":14,"t":0.605,"i":0.006},{"k":14,"t":0.615,"i":-0.008},{"k":14,"t":0.64,"i":0.01},{"k":14,"t":0.67,"i":-0.004},{"k":14,"t":0.697,"i":0.008},

{"k":15,"t":0.003,"i":0.004},{"k":15,"t":0.02,"i":0.016},{"k":15,"t":0.04,"i":-0.006},{"k":15,"t":0.06,"i":0.012},{"k":15,"t":0.08,"i":-0.014},{"k":15,"t":0.0995,"i":0.01},{"k":15,"t":0.0998,"i":-0.02},{"k":15,"t":0.1002,"i":0.02},
{"k":15,"t":0.1005,"i":-0.008},{"k":15,"t":0.13,"i":0.01},{"k":15,"t":0.16,"i":-0.014},{"k":15,"t":0.19,"i":0.006},{"k":15,"t":0.22,"i":-0.01},{"k":15,"t":0.25,"i":0.012},{"k":15,"t":0.28,"i":-0.006},{"k":15,"t":0.31,"i":0.014},{"k":15,"t":0.34,"i":-0.004},{"k":15,"t":0.37,"i":0.012},{"k":15,"t":0.4,"i":-0.008},{"k":15,"t":0.43,"i":0.014},{"k":15,"t":0.46,"i":0.0},{"k":15,"t":0.49,"i":0.016},{"k":15,"t":0.52,"i":-0.004},{"k":15,"t":0.55,"i":0.012},{"k":15,"t":0.58,"i":0.002},{"k":15,"t":0.5995,"i":0.01},
{"k":15,"t":0.6005,"i":-0.015},{"k":15,"t":0.602,"i":0.01},{"k":15,"t":0.605,"i":-0.01},{"k":15,"t":0.615,"i":0.012},{"k":15,"t":0.64,"i":-0.006},{"k":15,"t":0.67,"i":0.014},{"k":15,"t":0.697,"i":0.004},

{"k":16,"t":0.003,"i":-0.008},{"k":16,"t":0.02,"i":-0.012},{"k":16,"t":0.04,"i":0.012},{"k":16,"t":0.06,"i":-0.004},{"k":16,"t":0.08,"i":0.008},{"k":16,"t":0.0995,"i":-0.014},{"k":16,"t":0.0998,"i":-0.02},{"k":16,"t":0.1002,"i":0.015},
{"k":16,"t":0.1005,"i":0.01},{"k":16,"t":0.13,"i":-0.016},{"k":16,"t":0.16,"i":0.004},{"k":16,"t":0.19,"i":-0.018},{"k":16,"t":0.22,"i":0.002},{"k":16,"t":0.25,"i":-0.014},{"k":16,"t":0.28,"i":0.006},{"k":16,"t":0.31,"i":-0.016},{"k":16,"t":0.34,"i":0.0},{"k":16,"t":0.37,"i":-0.012},{"k":16,"t":0.4,"i":0.008},{"k":16,"t":0.43,"i":-0.018},{"k":16,"t":0.46,"i":-0.002},{"k":16,"t":0.49,"i":-0.014},{"k":16,"t":0.52,"i":0.004},{"k":16,"t":0.55,"i":-0.016},{"k":16,"t":0.58,"i":0.0},{"k":16,"t":0.5995,"i":-0.008},
{"k":16,"t":0.6005,"i":-0.01},{"k":16,"t":0.602,"i":0.012},{"k":16,"t":0.605,"i":-0.014},{"k":16,"t":0.615,"i":0.008},{"k":16,"t":0.64,"i":-0.012},{"k":16,"t":0.67,"i":0.006},{"k":16,"t":0.697,"i":-0.016}
]},
"resolve":{"axis":{"x":"independent","y":"independent"}},
"layer":[
{"data":{"name":"traces"},
 "mark":{"type":"line","color":"black","strokeWidth":1.9,"strokeJoin":"round"},
 "encoding":{
  "x":{"field":"t","type":"quantitative","scale":{"domain":[-0.026,0.726],"nice":false,"zero":false},
   "axis":{"orient":"bottom","values":[0.1,0.35,0.6],"format":".2~f","grid":false,"domainColor":"#262626","domainWidth":1,"tickColor":"#262626","tickWidth":1,"tickSize":-7,"labelFont":"DejaVu Sans","labelFontSize":30,"labelColor":"#262626","labelBaseline":"alphabetic","labelPadding":53,"labelFlush":false,"labelOverlap":false,"title":"t [s]","titleFont":"DejaVu Sans","titleFontSize":32,"titleFontWeight":"normal","titleColor":"#262626","titleX":366,"titleY":92,"titleAlign":"center","titleBaseline":"alphabetic"}},
  "y":{"field":"i","type":"quantitative","scale":{"domain":[-0.707,2.887],"nice":false,"zero":false},
   "axis":{"orient":"left","values":[0,1,2],"format":".2~f","grid":false,"domainColor":"#262626","domainWidth":1,"tickColor":"#262626","tickWidth":1,"tickSize":-7,"labelFont":"DejaVu Sans","labelFontSize":30,"labelColor":"#262626","labelBaseline":"middle","labelPadding":22,"labelOverlap":false,"title":"I [nA]","titleFont":"DejaVu Sans","titleFontSize":32,"titleFontWeight":"normal","titleColor":"#262626","titleX":-51,"titleY":239,"titleAngle":270,"titleAlign":"center","titleBaseline":"alphabetic"}},
  "detail":{"field":"k","type":"nominal"}
 }},
{"data":{"name":"anchor"},
 "mark":{"type":"point","opacity":0},
 "encoding":{
  "x":{"field":"t","type":"quantitative","scale":{"domain":[-0.026,0.726],"nice":false,"zero":false},
   "axis":{"orient":"top","domain":false,"ticks":false,"labels":false,"grid":false,"title":"Kv10.1 \u00a0Mouse \u00a0CHO \u00a025 °C","titleFont":"DejaVu Sans","titleFontSize":22,"titleFontWeight":"bold","titleColor":"black","titleX":36,"titleY":0,"titleAlign":"left","titleBaseline":"alphabetic","titleAngle":0}},
  "y":{"field":"i","type":"quantitative","scale":{"domain":[-0.707,2.887],"nice":false,"zero":false},
   "axis":{"orient":"right","domain":false,"ticks":false,"labels":false,"grid":false,"title":"BBP Channelpedia ID 6297 rep 2","titleFont":"DejaVu Sans","titleFontSize":22,"titleFontWeight":"normal","titleColor":"black","titleX":1,"titleY":239,"titleAngle":270,"titleAlign":"center","titleBaseline":"alphabetic"}}
 }},
{"data":{"name":"anchor"},
 "mark":{"type":"point","opacity":0},
 "encoding":{
  "x":{"field":"t","type":"quantitative","scale":{"domain":[-0.026,0.726],"nice":false,"zero":false},
   "axis":{"orient":"top","domain":false,"ticks":false,"labels":false,"grid":false,"title":"Activation","titleFont":"DejaVu Sans","titleFontSize":22,"titleFontWeight":"normal","titleColor":"black","titleX":715,"titleY":-1,"titleAlign":"right","titleBaseline":"alphabetic","titleAngle":0}},
  "y":{"field":"i","type":"quantitative","scale":{"domain":[-0.707,2.887],"nice":false,"zero":false},"axis":null}
 }}
]
}
